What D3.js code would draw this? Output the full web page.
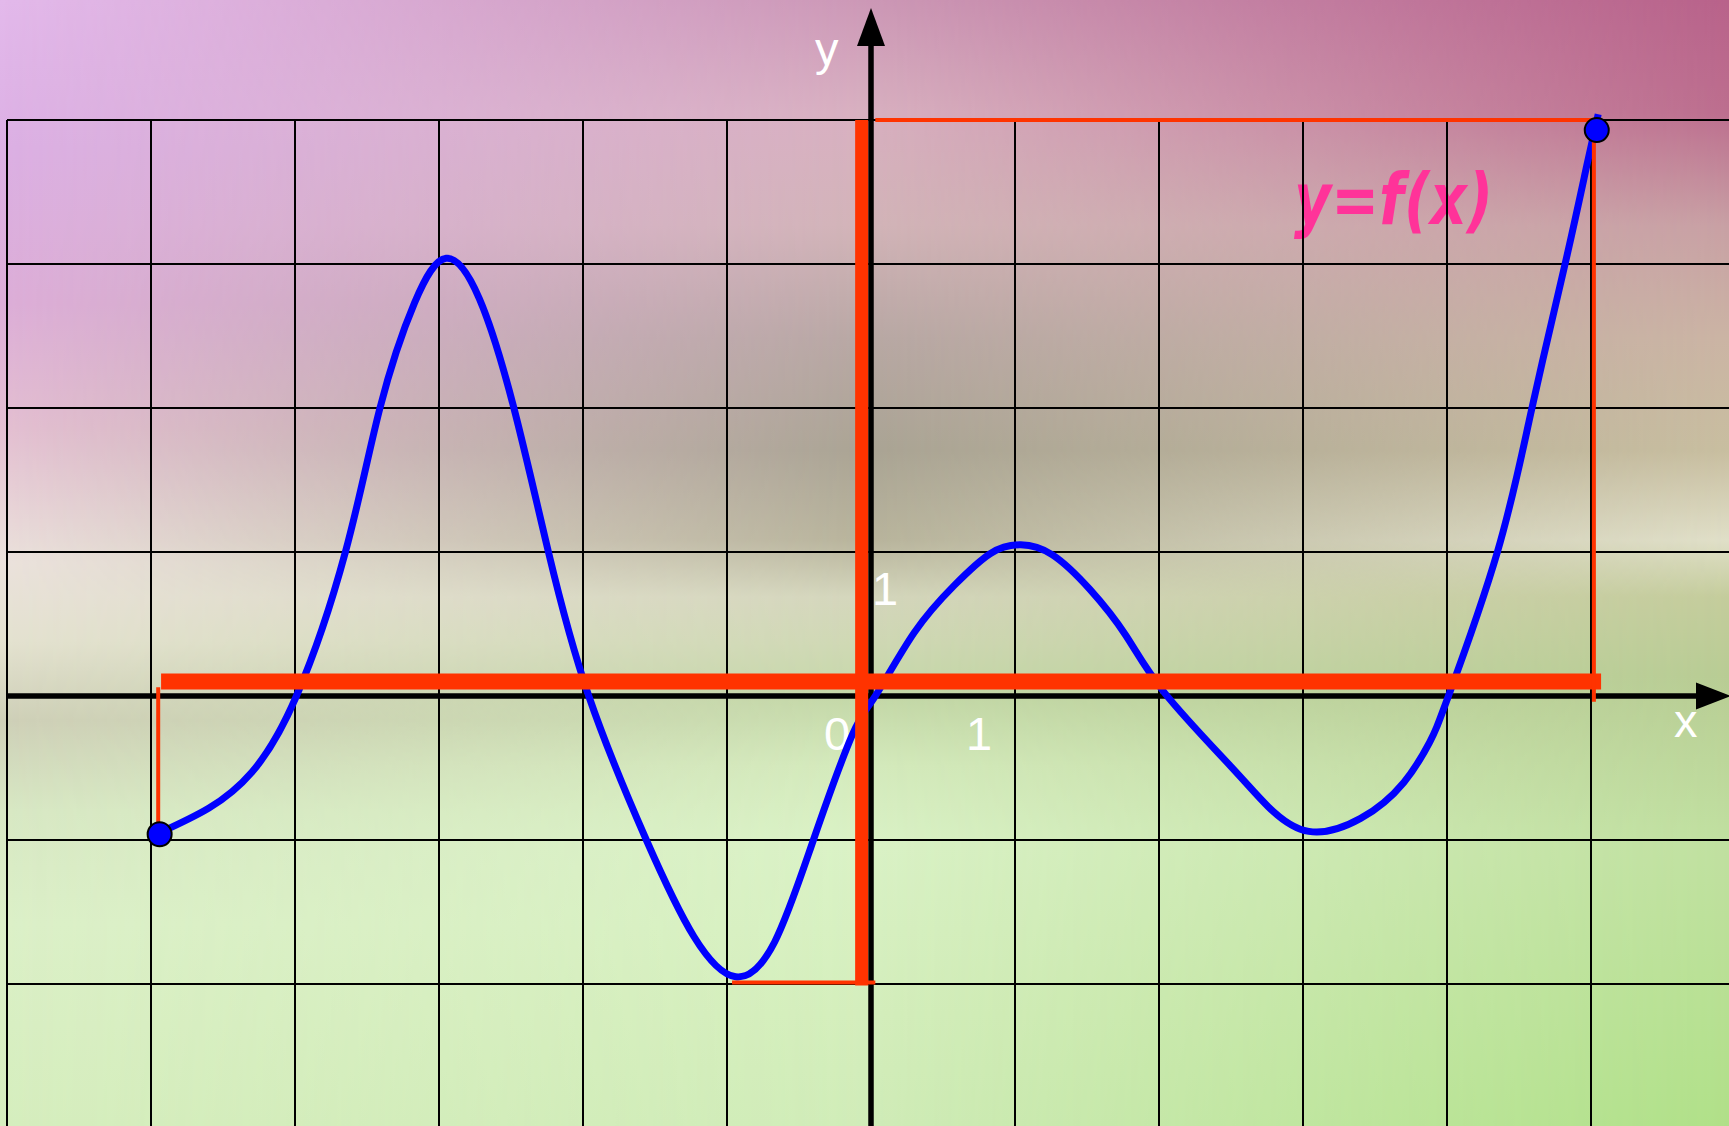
<!DOCTYPE html>
<html>
<head>
<meta charset="utf-8">
<script src="https://cdn.jsdelivr.net/npm/d3@7/dist/d3.min.js"></script>
<style>
  html, body { margin: 0; padding: 0; overflow: hidden; background: #d8e8c4; }
  svg { display: block; }
</style>
</head>
<body>
<div id="chart"></div>
<script>
// y = f(x) (one cell = one unit)
var curveX = [-4.94, -4.60, -4.30, -3.99, -3.65, -3.41, -3.17, -2.95, -2.72, -2.48, -2.24, -1.96,
              -1.56, -1.23, -0.94, -0.67, -0.40, -0.13, 0.03, 0.30, 0.58, 0.83, 1.04, 1.26, 1.52, 1.77, 2.04,
              2.50, 2.76, 3.04, 3.40, 3.70, 3.88, 4.01, 4.35, 4.59, 4.82, 4.97, 5.05];
var curveY = [-0.95, -0.78, -0.53, 0.0, 1.0, 2.0, 2.73, 3.04, 2.76, 2.0, 1.0, 0.0,
              -1.0, -1.67, -1.95, -1.71, -1.0, -0.27, 0.0, 0.44, 0.77, 0.99, 1.05, 0.98, 0.74, 0.42, 0.02,
              -0.49, -0.77, -0.94, -0.85, -0.60, -0.32, 0.0, 1.0, 2.0, 3.0, 3.68, 4.04];

// end points of the graph
var endX = [-4.94, 5.04];
var endY = [-0.96, 3.93];

// domain [-5, 5] and range [-2, 4], shown as thick red bands
var domainX = [-4.93, 5.07], domainBandY = 0.1;
var rangeY = [-2.01, 4.0], rangeBandX = -0.065;

// thin red guide lines [x1, y1, x2, y2]
var guideLines = [
  [-4.95, 0.06, -4.95, -0.95],
  [0.03, 4.0, 5.04, 4.0],
  [5.02, 3.93, 5.02, -0.04],
  [-0.965, -1.99, 0.03, -1.99]
];

var gridX = [-6, -5, -4, -3, -2, -1, 1, 2, 3, 4, 5, 6];
var gridY = [-2, -1, 1, 2, 3, 4];

var width = 1729, height = 1126;

var x = d3.scaleLinear().domain([-6, 6]).range([7, 1735]);
var y = d3.scaleLinear().domain([-3, 4]).range([1128, 120]);

var svg = d3.select('#chart').append('svg')
    .attr('width', width)
    .attr('height', height);

var defs = svg.append('defs');

// soft background: three vertical colour columns blended left to right
function vgrad(id, stops) {
  var g = defs.append('linearGradient').attr('id', id)
      .attr('x1', 0).attr('y1', 0).attr('x2', 0).attr('y2', 1);
  stops.forEach(function(s) {
    g.append('stop').attr('offset', s[0]).attr('stop-color', s[1]);
  });
}
vgrad('bgLeft', [[0, '#e3b9eb'], [0.13, '#dcb0e4'], [0.27, '#ddaed8'], [0.38, '#e4bfd2'], [0.5, '#ebe2dc'],
  [0.57, '#e4e2d0'], [0.64, '#cfd0b8'], [0.72, '#d8e8c4'], [0.82, '#dcf0c8'], [1, '#d6eebe']]);
vgrad('bgMid', [[0, '#cc98b6'], [0.1, '#d8b0c0'], [0.2, '#d2b4b8'], [0.3, '#b8a8a4'], [0.4, '#aaa494'],
  [0.48, '#b8b49c'], [0.53, '#d4d6bc'], [0.57, '#cfd8b4'], [0.62, '#c4d8a8'], [0.68, '#d4eabc'],
  [0.75, '#daf2c6'], [0.9, '#d4eebc'], [1, '#d0ecb8']]);
vgrad('bgRight', [[0, '#b8628a'], [0.1, '#bc6e8e'], [0.2, '#c8a0a4'], [0.3, '#cbb4a4'], [0.4, '#c8bea0'],
  [0.48, '#e0dfc8'], [0.53, '#c4cc9c'], [0.6, '#b8cc94'], [0.75, '#c0e0a0'], [1, '#b0e088']]);

function hmask(id, stops) {
  var g = defs.append('linearGradient').attr('id', id + 'G')
      .attr('x1', 0).attr('y1', 0).attr('x2', 1).attr('y2', 0);
  stops.forEach(function(s) {
    g.append('stop').attr('offset', s[0]).attr('stop-color', 'white').attr('stop-opacity', s[1]);
  });
  defs.append('mask').attr('id', id)
    .append('rect').attr('width', width).attr('height', height)
    .attr('fill', 'url(#' + id + 'G)');
}
hmask('mMid', [[0, 0], [0.5, 1], [1, 1]]);
hmask('mRight', [[0, 0], [0.5, 0], [1, 1]]);

svg.append('rect').attr('width', width).attr('height', height).attr('fill', 'url(#bgLeft)');
svg.append('rect').attr('width', width).attr('height', height).attr('fill', 'url(#bgMid)').attr('mask', 'url(#mMid)');
svg.append('rect').attr('width', width).attr('height', height).attr('fill', 'url(#bgRight)').attr('mask', 'url(#mRight)');

// title
svg.append('text')
    .attr('x', 1294)
    .attr('y', 224)
    .attr('textLength', 199)
    .attr('lengthAdjust', 'spacingAndGlyphs')
    .style('font-family', 'DejaVu Sans, sans-serif')
    .style('font-weight', 'bold')
    .style('font-style', 'italic')
    .style('font-size', '72px')
    .style('fill', '#ff3399')
    .text('y=f(x)');

// grid
svg.append('g').selectAll('line')
    .data(gridX)
    .enter().append('line')
    .attr('x1', function(d) { return x(d); })
    .attr('x2', function(d) { return x(d); })
    .attr('y1', y(4))
    .attr('y2', y(-3))
    .style('stroke', '#000')
    .style('stroke-width', 2);

svg.append('g').selectAll('line')
    .data(gridY)
    .enter().append('line')
    .attr('x1', x(-6))
    .attr('x2', x(6))
    .attr('y1', function(d) { return y(d); })
    .attr('y2', function(d) { return y(d); })
    .style('stroke', '#000')
    .style('stroke-width', 2);

// axes with arrows
svg.append('line')
    .attr('x1', x(-6)).attr('x2', 1700)
    .attr('y1', y(0)).attr('y2', y(0))
    .style('stroke', '#000').style('stroke-width', 5.5);
svg.append('path')
    .attr('d', 'M1696,' + (y(0) - 13.5) + 'L1731,' + y(0) + 'L1696,' + (y(0) + 13.5) + 'Z')
    .style('fill', '#000');

svg.append('line')
    .attr('x1', x(0)).attr('x2', x(0))
    .attr('y1', height).attr('y2', 44)
    .style('stroke', '#000').style('stroke-width', 5.5);
svg.append('path')
    .attr('d', 'M' + (x(0) - 14) + ',46L' + x(0) + ',8L' + (x(0) + 14) + ',46Z')
    .style('fill', '#000');

// white labels
var labelFont = 'Liberation Sans, Arial, sans-serif';
var labels = [
  ['y', x(0) - 56, 65],
  ['x', 1674, 737],
  ['0', x(0) - 47, y(0) + 54],
  ['1', x(1) - 49, y(0) + 54],
  ['1', x(0) + 1, y(1) + 53]
];
svg.append('g').selectAll('text')
    .data(labels)
    .enter().append('text')
    .attr('x', function(d) { return d[1]; })
    .attr('y', function(d) { return d[2]; })
    .style('font-family', labelFont)
    .style('font-size', '47px')
    .style('fill', '#fff')
    .text(function(d) { return d[0]; });

// the graph
var pts = curveX.map(function(v, i) { return [v, curveY[i]]; });
var line = d3.line()
    .x(function(d) { return x(d[0]); })
    .y(function(d) { return y(d[1]); })
    .curve(d3.curveNatural);

svg.append('path')
    .datum(pts)
    .attr('d', line)
    .style('fill', 'none')
    .style('stroke', '#0000ff')
    .style('stroke-width', 7)
    .style('stroke-linejoin', 'round');

// domain and range bands
svg.append('line')
    .attr('x1', x(domainX[0])).attr('x2', x(domainX[1]))
    .attr('y1', y(domainBandY)).attr('y2', y(domainBandY))
    .style('stroke', '#ff3300').style('stroke-width', 16);

svg.append('line')
    .attr('x1', x(rangeBandX)).attr('x2', x(rangeBandX))
    .attr('y1', y(rangeY[0])).attr('y2', y(rangeY[1]))
    .style('stroke', '#ff3300').style('stroke-width', 13);

svg.append('g').selectAll('line')
    .data(guideLines)
    .enter().append('line')
    .attr('x1', function(d) { return x(d[0]); })
    .attr('y1', function(d) { return y(d[1]); })
    .attr('x2', function(d) { return x(d[2]); })
    .attr('y2', function(d) { return y(d[3]); })
    .style('stroke', '#ff3300')
    .style('stroke-width', 4);

// end points
svg.append('g').selectAll('circle')
    .data(endX)
    .enter().append('circle')
    .attr('cx', function(d) { return x(d); })
    .attr('cy', function(d, i) { return y(endY[i]); })
    .attr('r', 12)
    .style('fill', '#0000ff')
    .style('stroke', '#000')
    .style('stroke-width', 2);
</script>
</body>
</html>
